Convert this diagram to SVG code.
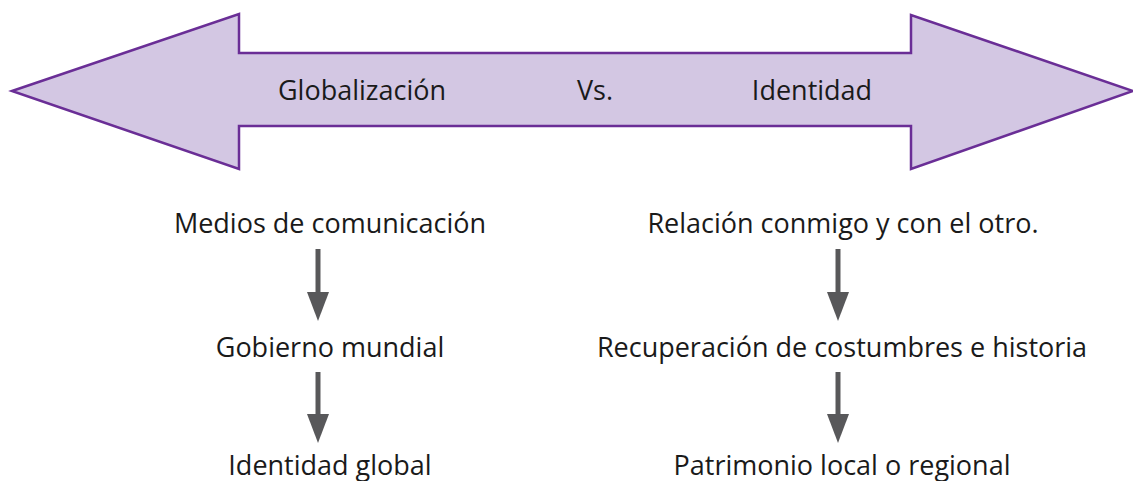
<svg xmlns="http://www.w3.org/2000/svg" width="1133" height="481" viewBox="0 0 1133 481">
<defs>
<style>
.t{font-family:"Open Sans","Liberation Sans",sans-serif;font-size:27px;fill:#1a1a1a;text-anchor:middle}
.h{font-family:"Open Sans","Liberation Sans",sans-serif;font-size:27px;fill:#1a1a1a;text-anchor:middle}
.sh{stroke:#58585a;stroke-width:5;fill:none}
.hd{fill:#58585a}
</style>
</defs>
<rect width="1133" height="481" fill="#ffffff"/>
<g id="double-arrow">
<path d="M12,91 L239,14 L239,53 L911,53 L911,15 L1133,91 L911,169 L911,126 L239,126 L239,169 Z" fill="#d3c7e3" stroke="#6a2e96" stroke-width="2.5" stroke-linejoin="miter"/>
<text class="h" x="362" y="100">Globalización</text>
<text class="h" x="595" y="100">Vs.</text>
<text class="h" x="812" y="100">Identidad</text>
</g>
<g id="n-medios"><text class="t" x="330" y="233">Medios de comunicación</text></g>
<g id="n-gobierno"><text class="t" x="330" y="357">Gobierno mundial</text></g>
<g id="n-identidad-global"><text class="t" x="330" y="475">Identidad global</text></g>
<g id="n-relacion"><text class="t" x="843" y="233">Relación conmigo y con el otro.</text></g>
<g id="n-recuperacion"><text class="t" x="842" y="357">Recuperación de costumbres e historia</text></g>
<g id="n-patrimonio"><text class="t" x="842" y="475">Patrimonio local o regional</text></g>
<g id="connectors">
<line class="sh" x1="318" y1="249" x2="318" y2="294"/><polygon class="hd" points="307,292 329,292 318,321"/>
<line class="sh" x1="318" y1="372" x2="318" y2="416"/><polygon class="hd" points="307,414 329,414 318,443"/>
<line class="sh" x1="838" y1="249" x2="838" y2="294"/><polygon class="hd" points="827,292 849,292 838,321"/>
<line class="sh" x1="838" y1="372" x2="838" y2="416"/><polygon class="hd" points="827,414 849,414 838,443"/>
</g>
</svg>
